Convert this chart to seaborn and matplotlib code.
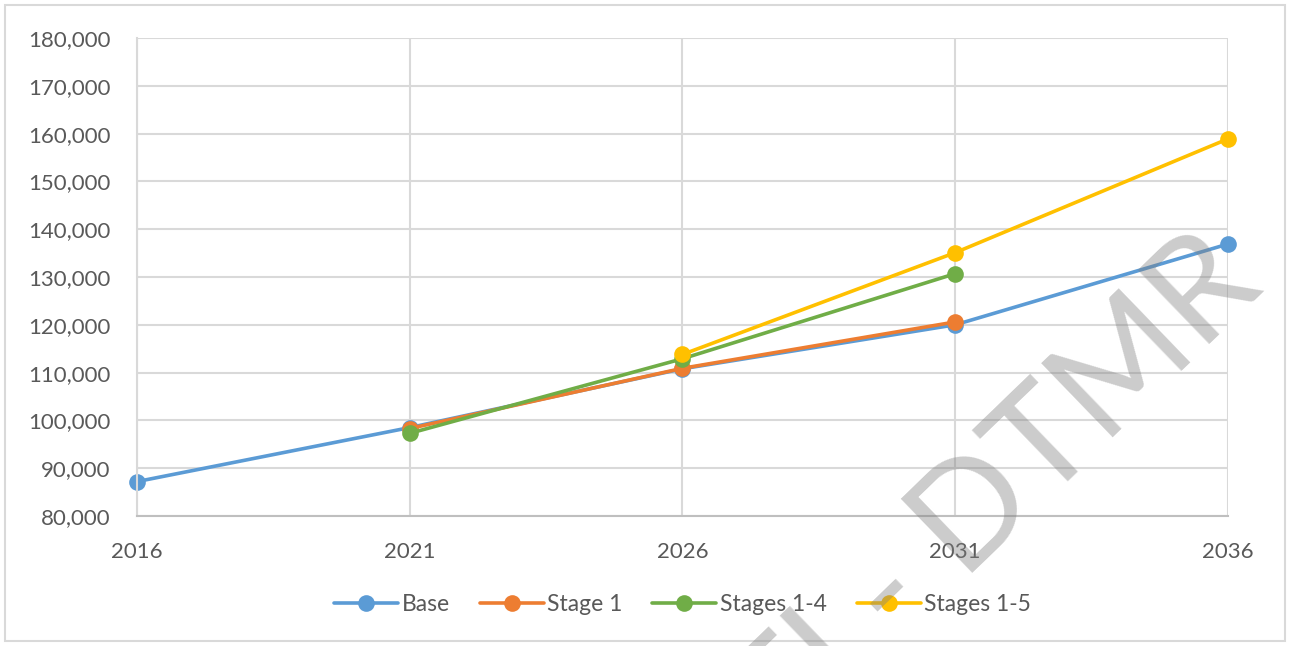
import matplotlib.pyplot as plt
import seaborn as sns
import numpy as np
from matplotlib.patches import Rectangle
from matplotlib.ticker import FuncFormatter

# Data
years = [2016, 2021, 2026, 2031, 2036]
base = [87200, 98500, 110800, 120000, 136900]
stage_1 = [np.nan, 98300, 110900, 120600, np.nan]
stages_1_4 = [np.nan, 97300, 112900, 130700, np.nan]
stages_1_5 = [np.nan, np.nan, 113800, 135100, 158900]

series_names = ['Base', 'Stage 1', 'Stages 1-4', 'Stages 1-5']
series_values = [base, stage_1, stages_1_4, stages_1_5]
colors = ['#5B9BD5', '#ED7D31', '#70AD47', '#FFC000']

sns.set_style("white")
plt.rcParams['font.family'] = ['Lato', 'DejaVu Sans']

fig = plt.figure(figsize=(12.9, 6.46), dpi=100)
ax = fig.add_axes([137 / 1290, 1 - 516 / 646, (1228 - 137) / 1290, (516 - 38) / 646])

for name, vals, col in zip(series_names, series_values, colors):
    x = [yr for yr, v in zip(years, vals) if not np.isnan(v)]
    y = [v for v in vals if not np.isnan(v)]
    sns.lineplot(x=x, y=y, ax=ax, color=col, linewidth=2.6, marker='o',
                 markersize=12, markeredgewidth=0, label=name, clip_on=False)

ax.set_xlim(2016, 2036)
ax.set_ylim(80000, 180000)
ax.set_xticks(years)
ax.set_yticks(np.arange(80000, 180001, 10000))
ax.yaxis.set_major_formatter(FuncFormatter(lambda v, p: f'{int(v):,}'))
ax.grid(True, color='#D9D9D9', linewidth=1.5)
ax.set_axisbelow(True)
for s in ['top', 'right']:
    ax.spines[s].set_visible(False)
ax.spines['left'].set_color('#D9D9D9')
ax.spines['left'].set_linewidth(1.5)
ax.spines['bottom'].set_color('#BFBFBF')
ax.spines['bottom'].set_linewidth(1.5)
ax.tick_params(axis='both', length=0, labelsize=16, colors='#595959')
ax.tick_params(axis='x', pad=19)
ax.tick_params(axis='y', pad=19)
ax.set_xlabel('')
ax.set_ylabel('')

leg = ax.legend(loc='center', bbox_to_anchor=(0.5, -0.186), ncol=4, frameon=False,
                fontsize=16.5, handlelength=2.8, handletextpad=0.15, columnspacing=1.3)
for t in leg.get_texts():
    t.set_color('#595959')

# outer chart border
fig.patches.append(Rectangle((5 / 1290, 5 / 646), 1280 / 1290, 636 / 646,
                             transform=fig.transFigure, fill=False,
                             edgecolor='#D9D9D9', linewidth=1.5))

# watermark
fig.text(0.771, 0.234, 'TI - DTMR', rotation=44, fontsize=104, color='#7F7F7F',
         alpha=0.4, ha='center', va='center', rotation_mode='anchor')

fig.savefig('out.png', dpi=100)
